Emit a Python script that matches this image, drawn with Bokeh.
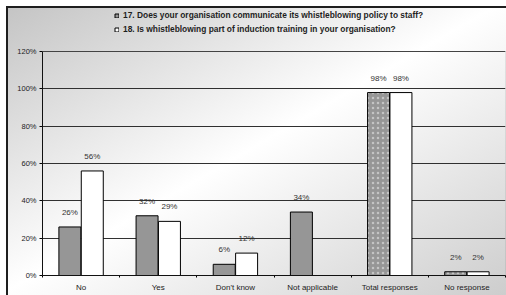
from bokeh.plotting import figure
from bokeh.models import (ColumnDataSource, Range1d, FixedTicker, Legend, LegendItem,
                          PrintfTickFormatter, BoxAnnotation)
from bokeh.transform import dodge
from bokeh.core.properties import value
from bokeh.embed import file_html
from bokeh.resources import INLINE

categories = ["No", "Yes", "Don't know", "Not applicable", "Total responses", "No response"]
q17 = [26, 32, 6, 34, 98, 2]
q18 = [56, 29, 12, None, 98, 2]
series_names = [
    "17. Does your organisation communicate its whistleblowing policy to staff?",
    "18. Is whistleblowing part of induction training in your organisation?",
]
y_ticks = [0, 20, 40, 60, 80, 100, 120]

FONT = "Liberation Sans"
GRAY = "#969696"
dotted = {"Total responses", "No response"}

centers = [i + 0.5 for i in range(len(categories))]

src17 = ColumnDataSource(dict(
    x=centers, v=q17, lbl=[f"{v}%" for v in q17],
    hatch=["." if c in dotted else " " for c in categories],
))
idx18 = [i for i, v in enumerate(q18) if v is not None]
src18 = ColumnDataSource(dict(
    x=[centers[i] for i in idx18], v=[q18[i] for i in idx18],
    lbl=[f"{q18[i]}%" for i in idx18],
))

# frame spans the full height; the value axis covers 0-120% in the lower 224 px
W, H, BOTTOM = 506, 295, 20
y_top = y_ticks[-1] * (H - BOTTOM) / 224.0

bg = ", ".join([
    "linear-gradient(to right, #ffffff 6px, transparent 6px)",
    "linear-gradient(to bottom, #ffffff 6px, transparent 6px)",
    "linear-gradient(to right, transparent 6px, #1e1e1e 6px, #1e1e1e 8px, transparent 8px)",
    "linear-gradient(to bottom, transparent 6px, #1e1e1e 6px, #1e1e1e 8px, transparent 8px)",
    "linear-gradient(to bottom right, #c2c2c2 0%, #ffffff 50%, #cdcdcd 100%)",
])

p = figure(width=W, height=H, output_backend="svg", toolbar_location=None,
           x_range=Range1d(0, len(categories)), y_range=Range1d(0, y_top),
           min_border_left=42, min_border_right=1, min_border_top=0, min_border_bottom=BOTTOM,
           border_fill_color=None, background_fill_color=None,
           styles={"background": bg})
p.outline_line_color = None

# plot-area box (0..120%)
p.add_layout(BoxAnnotation(bottom=0, top=y_ticks[-1], fill_alpha=0,
                           line_color="#707070", line_width=1))

off = 0.145
bw = 0.285
r17 = p.vbar(x=dodge("x", -off, range=p.x_range), top="v", width=bw, source=src17,
             fill_color=GRAY, line_color="black", line_width=1,
             hatch_pattern="hatch", hatch_color="#c4c4c4", hatch_scale=5, hatch_weight=1)
r18 = p.vbar(x=dodge("x", off, range=p.x_range), top="v", width=bw, source=src18,
             fill_color="white", line_color="black", line_width=1)

for s, o in ((src17, -off), (src18, off)):
    p.text(x=dodge("x", o, range=p.x_range), y="v", text="lbl", source=s,
           text_font=value(FONT), text_font_size="8px", text_color="#333333",
           text_align="center", text_baseline="bottom", y_offset=-10)

# axes
p.xaxis.ticker = FixedTicker(ticks=centers, minor_ticks=list(range(len(categories) + 1)))
p.xaxis.major_label_overrides = {c: lab for c, lab in zip(centers, categories)}
p.xaxis.major_tick_out = 0
p.xaxis.major_tick_in = 0
p.xaxis.minor_tick_out = 2
p.xaxis.minor_tick_in = 0
p.xaxis.minor_tick_line_color = "black"
p.xaxis.axis_line_color = "black"
p.xaxis.major_label_text_font = FONT
p.xaxis.major_label_text_font_size = "8px"
p.xaxis.major_label_text_color = "#222222"
p.xaxis.major_label_standoff = 5

p.yaxis.ticker = FixedTicker(ticks=y_ticks)
p.yaxis.bounds = (y_ticks[0], y_ticks[-1])
p.yaxis.formatter = PrintfTickFormatter(format="%d%%")
p.yaxis.major_tick_out = 3
p.yaxis.major_tick_in = 0
p.yaxis.minor_tick_out = 0
p.yaxis.minor_tick_in = 0
p.yaxis.axis_line_color = "black"
p.yaxis.major_tick_line_color = "black"
p.yaxis.major_label_text_font = FONT
p.yaxis.major_label_text_font_size = "7.5px"
p.yaxis.major_label_text_color = "#222222"
p.yaxis.major_label_standoff = 3

p.xgrid.grid_line_color = None
p.ygrid.grid_line_color = "#303030"
p.ygrid.grid_line_width = 1

legend = Legend(items=[LegendItem(label=series_names[0], renderers=[r17]),
                       LegendItem(label=series_names[1], renderers=[r18])],
                location=(72, 240), orientation="vertical",
                background_fill_alpha=0, border_line_color=None,
                label_text_font=FONT, label_text_font_style="bold",
                label_text_font_size="8.4px", label_text_color="#1e1e1e",
                glyph_width=5, glyph_height=5, label_standoff=4,
                label_height=12, spacing=2, padding=0, margin=0)
p.add_layout(legend, "center")

open("out.html", "w").write(file_html(p, INLINE))
